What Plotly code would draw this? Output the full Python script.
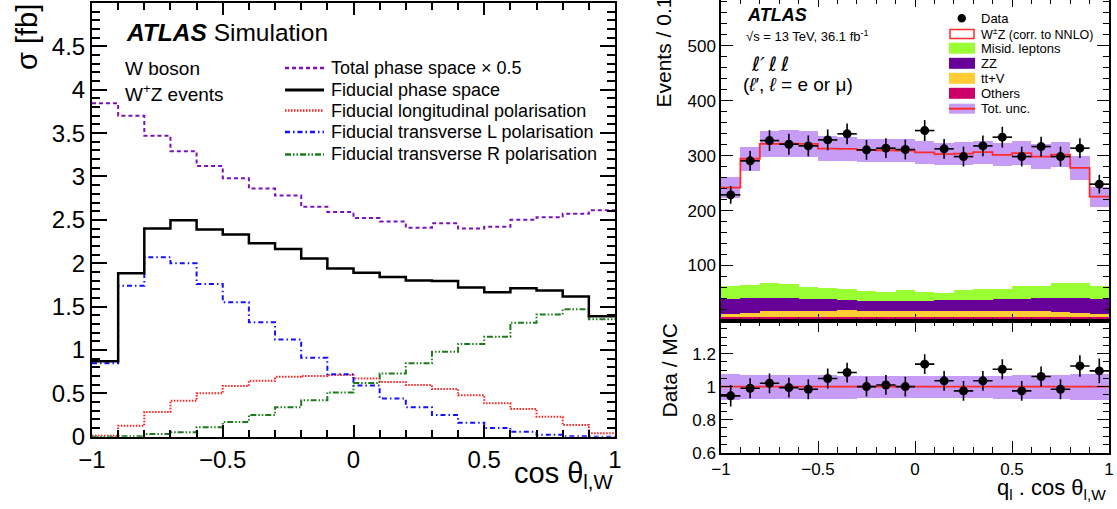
import numpy as np
import plotly.graph_objects as go

W, H = 1117, 509
FONT = "Liberation Sans, Arial, Helvetica, sans-serif"

# ---------------- data ----------------
bin_edges = np.round(np.linspace(-1.0, 1.0, 21), 2)
bin_centers = np.round((bin_edges[:-1] + bin_edges[1:]) / 2, 3)

# left panel: sigma [fb] per cos(theta_lW) bin
total_half = [3.845, 3.70, 3.47, 3.29, 3.12, 2.98, 2.86, 2.78, 2.65, 2.59,
              2.52, 2.48, 2.41, 2.46, 2.40, 2.42, 2.50, 2.53, 2.57, 2.61]
fiducial = [0.87, 1.885, 2.40, 2.495, 2.39, 2.33, 2.23, 2.165, 2.055, 1.94,
            1.89, 1.84, 1.80, 1.795, 1.72, 1.665, 1.71, 1.685, 1.615, 1.39]
longit = [0.01, 0.127, 0.285, 0.415, 0.50, 0.585, 0.646, 0.69, 0.70, 0.71,
          0.67, 0.63, 0.595, 0.55, 0.477, 0.385, 0.32, 0.23, 0.135, 0.04]
trans_L = [0.846, 1.74, 2.07, 2.00, 1.76, 1.55, 1.32, 1.12, 0.91, 0.72,
           0.59, 0.44, 0.34, 0.25, 0.16, 0.10, 0.058, 0.023, 0.006, 0.0]
trans_R = [0.0, 0.005, 0.03, 0.05, 0.108, 0.17, 0.25, 0.34, 0.42, 0.51,
           0.62, 0.73, 0.847, 0.98, 1.07, 1.153, 1.315, 1.41, 1.47, 1.354]

# right panel: events per bin
data_events = [228.5, 290.4, 327.3, 320.7, 317.6, 328.5, 339.5, 310.4, 313.5, 311.0,
               345.5, 312.2, 298.2, 317.6, 333.5, 298.2, 316.4, 298.2, 313.5, 248.0]
data_err = [16, 18, 19, 19, 19, 19, 19, 18, 18, 18,
            19, 18, 18, 19, 19, 18, 18, 18, 18, 17]
wz = [178.0, 230.0, 253.5, 255.0, 260.0, 254.0, 255.3, 256.0, 257.0, 254.0,
      253.0, 251.6, 248.5, 248.7, 243.2, 241.4, 235.8, 234.0, 210.0, 163.0]
misid = [24.9, 23.7, 26.1, 24.9, 21.3, 20.0, 18.8, 18.8, 17.6, 20.0,
         17.0, 14.0, 18.2, 19.4, 19.4, 23.1, 21.9, 26.1, 27.3, 23.7]
zz = [26.0, 26.0, 24.8, 24.2, 22.4, 20.6, 19.4, 17.6, 17.6, 17.6,
      18.2, 19.4, 19.4, 20.6, 21.2, 22.9, 23.6, 25.7, 26.0, 26.0]
ttv = [7.2, 8.5, 10.4, 11.0, 11.0, 11.6, 12.2, 11.0, 11.0, 11.0,
       11.0, 11.0, 11.0, 11.0, 11.0, 10.5, 10.4, 10.0, 8.5, 7.2]
others = [5.5, 6.0, 6.5, 6.5, 6.5, 6.5, 6.5, 6.5, 6.5, 6.5,
          6.5, 6.5, 6.5, 6.5, 6.5, 6.5, 6.5, 6.0, 6.0, 5.5]
unc_rel = [0.08, 0.075, 0.075, 0.075, 0.075, 0.072, 0.07, 0.068, 0.068, 0.066,
           0.066, 0.066, 0.068, 0.068, 0.07, 0.072, 0.075, 0.075, 0.078, 0.08]
ratio = [0.944, 0.99, 1.02, 0.994, 0.984, 1.049, 1.085, 1.0, 1.01, 1.0,
         1.136, 1.035, 0.974, 1.035, 1.105, 0.974, 1.061, 0.984, 1.125, 1.095]
ratio_err = [0.065, 0.06, 0.06, 0.06, 0.06, 0.06, 0.06, 0.06, 0.06, 0.06,
             0.06, 0.06, 0.06, 0.06, 0.06, 0.06, 0.06, 0.06, 0.065, 0.075]

# colours
C_TOT = "#7d10b8"
C_LONG = "#ff2020"
C_TL = "#1010ff"
C_TR = "#1c7a1c"
C_MISID = "#99ff33"
C_ZZ = "#660099"
C_TTV = "#ffcc33"
C_OTH = "#cc0066"
C_BAND = "#c79cf7"
C_RED = "#ff2a2a"

DASH_TOT = "4px,3px"
DASH_LONG = "1.5px,1.5px"
DASH_TL = "5px,3px,1.5px,3px"
DASH_TR = "6px,2px,1.5px,2px,1.5px,2px"


def px_x(p):
    return p / W


def px_y(p):
    return 1 - p / H


def step(vals):
    return list(bin_edges), list(vals) + [vals[-1]]


fig = go.Figure()

# ---------------- left panel ----------------
for vals, col, dash, wd in [
    (total_half, C_TOT, DASH_TOT, 2),
    (longit, C_LONG, DASH_LONG, 2),
    (trans_L, C_TL, DASH_TL, 2),
    (trans_R, C_TR, DASH_TR, 2),
    (fiducial, "black", "solid", 2.5),
]:
    xs, ys = step(vals)
    fig.add_trace(go.Scatter(x=xs, y=ys, mode="lines", line_shape="hv",
                             line=dict(color=col, dash=dash, width=wd),
                             xaxis="x", yaxis="y", showlegend=False, hoverinfo="skip"))

# ---------------- right main panel ----------------
others_a = np.array(others)
ttv_a = np.array(ttv)
zz_a = np.array(zz)
misid_a = np.array(misid)
wz_a = np.array(wz)
stack = [(others_a, C_OTH), (ttv_a, C_TTV), (zz_a, C_ZZ), (misid_a, C_MISID), (wz_a, "white")]
base = np.zeros(20)
for vals, col in stack:
    fig.add_trace(go.Bar(x=bin_centers, y=vals, base=base.copy(), width=0.1,
                         marker=dict(color=col, line=dict(width=0)),
                         xaxis="x2", yaxis="y2", showlegend=False, hoverinfo="skip"))
    base = base + vals
total_mc = base
unc_abs = total_mc * np.array(unc_rel)
fig.add_trace(go.Bar(x=bin_centers, y=2 * unc_abs, base=total_mc - unc_abs, width=0.1,
                     marker=dict(color=C_BAND, line=dict(width=0)),
                     xaxis="x2", yaxis="y2", showlegend=False, hoverinfo="skip"))
xs, ys = step(list(total_mc))
fig.add_trace(go.Scatter(x=xs, y=ys, mode="lines", line_shape="hv",
                         line=dict(color=C_RED, width=1.8),
                         xaxis="x2", yaxis="y2", showlegend=False, hoverinfo="skip"))
fig.add_trace(go.Scatter(x=bin_centers, y=data_events, mode="markers",
                         marker=dict(color="black", size=9),
                         error_y=dict(type="data", array=data_err, color="black", thickness=1.6, width=0),
                         error_x=dict(type="constant", value=0.05, color="black", thickness=1.6, width=0),
                         xaxis="x2", yaxis="y2", showlegend=False, hoverinfo="skip"))

# ---------------- ratio panel ----------------
ur = np.array(unc_rel)
fig.add_trace(go.Bar(x=bin_centers, y=2 * ur, base=1 - ur, width=0.1,
                     marker=dict(color=C_BAND, line=dict(width=0)),
                     xaxis="x3", yaxis="y3", showlegend=False, hoverinfo="skip"))
fig.add_trace(go.Scatter(x=[-1, 1], y=[1, 1], mode="lines",
                         line=dict(color=C_RED, width=1.8),
                         xaxis="x3", yaxis="y3", showlegend=False, hoverinfo="skip"))
fig.add_trace(go.Scatter(x=bin_centers, y=ratio, mode="markers",
                         marker=dict(color="black", size=9),
                         error_y=dict(type="data", array=ratio_err, color="black", thickness=1.6, width=0),
                         error_x=dict(type="constant", value=0.05, color="black", thickness=1.6, width=0),
                         xaxis="x3", yaxis="y3", showlegend=False, hoverinfo="skip"))


# ---------------- axes ----------------
def axis(domain, rng, ticklen, minor_len, dtick_minor, tickvals=None, showlabels=True,
         fsize=24, lw=2, anchor=None):
    d = dict(domain=domain, range=rng, showline=True, linecolor="black", linewidth=lw,
             mirror="allticks", ticks="inside", ticklen=ticklen, tickwidth=lw * 0.8,
             tickcolor="black", showgrid=False, zeroline=False, fixedrange=True,
             automargin=False, showticklabels=showlabels,
             tickfont=dict(family=FONT, size=fsize, color="black"),
             minor=dict(ticks="inside", ticklen=minor_len, dtick=dtick_minor, tick0=0,
                        tickcolor="black", tickwidth=lw * 0.8, showgrid=False))
    if tickvals is not None:
        d["tickmode"] = "array"
        d["tickvals"] = tickvals
    if anchor:
        d["anchor"] = anchor
    return d


xt = [-1, -0.5, 0, 0.5, 1]
L_dom_x = [px_x(92), px_x(615)]
L_dom_y = [px_y(436.7), px_y(3.0)]
R_dom_x = [px_x(721), px_x(1109)]
R_main_y = [px_y(320.5), 1.0]
R_ratio_y = [px_y(452.7), px_y(320.5)]

layout_axes = dict(
    xaxis=axis(L_dom_x, [-1, 1], 12, 7, 0.1, xt, True, 24, 2, anchor="y"),
    yaxis=axis(L_dom_y, [0, 5], 15, 8, 0.1, [0, 0.5, 1, 1.5, 2, 2.5, 3, 3.5, 4, 4.5], True, 24, 2, anchor="x"),
    xaxis2=axis(R_dom_x, [-1, 1], 7, 4, 0.1, xt, False, 17, 1.5, anchor="y2"),
    yaxis2=axis(R_main_y, [0, 583], 12, 6, 20, [100, 200, 300, 400, 500], True, 17, 1.5, anchor="x2"),
    xaxis3=axis(R_dom_x, [-1, 1], 12, 6, 0.1, xt, True, 17, 1.5, anchor="y3"),
    yaxis3=axis(R_ratio_y, [0.6, 1.4], 12, 6, 0.05, [0.6, 0.8, 1, 1.2], True, 17, 1.5, anchor="x3"),
)

# ---------------- annotations & legend shapes ----------------
ann = []
shapes = []


def text(x, y, s, size, xanchor="left", yanchor="middle", angle=0, color="black", family=FONT):
    ann.append(dict(x=px_x(x), y=px_y(y), xref="paper", yref="paper", text=s, showarrow=False,
                    xanchor=xanchor, yanchor=yanchor, textangle=angle,
                    font=dict(family=family, size=size, color=color)))


# left panel texts
text(124, 33, "<b><i>ATLAS</i></b> Simulation", 24.5)
text(123, 68, "W boson", 19)
text(123, 93, "W<sup>+</sup>Z events", 19)
leg_left = [
    ("Total phase space × 0.5", C_TOT, DASH_TOT, 2.5, 68),
    ("Fiducial phase space", "black", "solid", 3, 90),
    ("Fiducial longitudinal polarisation", C_LONG, DASH_LONG, 2.5, 110.5),
    ("Fiducial transverse L polarisation", C_TL, DASH_TL, 2.5, 132),
    ("Fiducial transverse R polarisation", C_TR, DASH_TR, 2.5, 154.5),
]
for lab, col, dash, wd, yy in leg_left:
    shapes.append(dict(type="line", xref="paper", yref="paper", x0=px_x(285), x1=px_x(324),
                       y0=px_y(yy), y1=px_y(yy), line=dict(color=col, dash=dash, width=wd)))
    text(329, yy, lab, 18)
text(27, 2, "σ [fb]", 29, xanchor="center", yanchor="top", angle=-90)
text(615, 475, "cos θ<sub>l,W</sub>", 29, xanchor="right")

# right panel texts
text(745, 15, "<b><i>ATLAS</i></b>", 18)
text(744, 36, "√s = 13 TeV, 36.1 fb<sup>-1</sup>", 13)
text(749, 64, "<i>ℓ′\u2009ℓ\u2009ℓ</i>", 20, family="DejaVu Sans, sans-serif")
text(741, 85, "(<i>ℓ</i>′, <i>ℓ</i> = e or μ)", 19)
text(663, 110, "Events / 0.1", 21, xanchor="center", yanchor="bottom", angle=-90)
text(669, 321, "Data / MC", 21, xanchor="center", yanchor="top", angle=-90)
text(1108, 489, "q<sub>l</sub> . cos θ<sub>l,W</sub>", 22, xanchor="right")

leg_right = [
    ("Data", None, 18.3),
    ("W<sup>±</sup>Z (corr. to NNLO)", "wz", 34),
    ("Misid. leptons", C_MISID, 48.2),
    ("ZZ", C_ZZ, 63.3),
    ("tt+V", C_TTV, 78.3),
    ("Others", C_OTH, 93.3),
    ("Tot. unc.", "unc", 108.7),
]
for lab, col, yy in leg_right:
    if col is None:
        shapes.append(dict(type="circle", xref="paper", yref="paper",
                           x0=px_x(957.5), x1=px_x(966), y0=px_y(22.5), y1=px_y(14),
                           fillcolor="black", line=dict(width=0)))
    elif col == "wz":
        shapes.append(dict(type="rect", xref="paper", yref="paper",
                           x0=px_x(950), x1=px_x(974), y0=px_y(yy + 4.5), y1=px_y(yy - 4.5),
                           fillcolor="white", line=dict(color=C_RED, width=1.5)))
    elif col == "unc":
        shapes.append(dict(type="rect", xref="paper", yref="paper",
                           x0=px_x(949), x1=px_x(975), y0=px_y(yy + 5), y1=px_y(yy - 5),
                           fillcolor=C_BAND, line=dict(width=0)))
        shapes.append(dict(type="line", xref="paper", yref="paper",
                           x0=px_x(949), x1=px_x(975), y0=px_y(yy), y1=px_y(yy),
                           line=dict(color=C_RED, width=2)))
    else:
        shapes.append(dict(type="rect", xref="paper", yref="paper",
                           x0=px_x(949), x1=px_x(975), y0=px_y(yy + 5.5), y1=px_y(yy - 5.5),
                           fillcolor=col, line=dict(width=0)))
    text(979, yy, lab, 13 if col != "wz" else 12.5)

fig.update_layout(
    template="none",
    width=W, height=H, autosize=False,
    margin=dict(l=0, r=0, t=0, b=0, pad=0, autoexpand=False),
    paper_bgcolor="white", plot_bgcolor="white",
    barmode="overlay", bargap=0,
    showlegend=False,
    annotations=ann, shapes=shapes,
    font=dict(family=FONT, color="black"),
    **layout_axes,
)

fig.write_html("out.html", config={"displayModeBar": False},
               post_script="document.body.style.margin='0';document.body.style.overflow='hidden';")
